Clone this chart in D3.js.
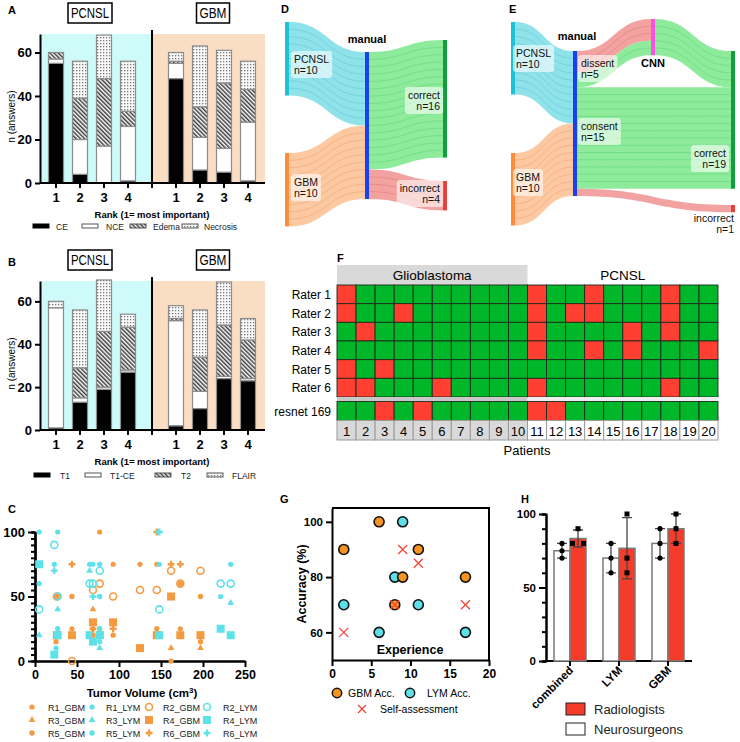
<!DOCTYPE html>
<html><head><meta charset="utf-8">
<script src="https://cdn.jsdelivr.net/npm/d3@7"></script>
<style>body{margin:0;background:#fff}svg{display:block}text{font-family:"Liberation Sans",Arial,sans-serif}</style>
</head><body><svg id="c" width="740" height="742"></svg>
<script>
// ================= DATA =================
const ranks = ["1","2","3","4"];
const yTicksAB = [0,20,40,60];
// Panel A
const aKeys = ["CE","NCE","Edema","Necrosis"];
const aPcnslCE = [55,4,0,1];
const aPcnslNCE = [2,16,17,25];
const aPcnslEdema = [3,19,31,7];
const aPcnslNecrosis = [0,17,20,23];
const aGbmCE = [48,6,5,1];
const aGbmNCE = [7,15,11,27];
const aGbmEdema = [1,14,30,15];
const aGbmNecrosis = [4,28,15,13];
// Panel B
const bKeys = ["T1","T1-CE","T2","FLAIR"];
const bPcnslT1 = [1,13,19,27];
const bPcnslT1CE = [56,2,1,1];
const bPcnslT2 = [0,14,26,20];
const bPcnslFLAIR = [3,27,24,6];
const bGbmT1 = [2,10,24,23];
const bGbmT1CE = [49,8,1,1];
const bGbmT2 = [1,16,24,18];
const bGbmFLAIR = [6,22,20,10];
// Panel C  [tumor volume, value]
const cR1Gbm = [[25,15],[44,25],[69,25],[77,100],[93,75],[125,75],[145,75],[162,0],[173,25],[197,15]];
const cR1Lym = [[5,100],[23,75],[27,100],[65,75],[69,75],[77,75],[148,75],[221,50],[233,75],[25,10]];
const cR2Gbm = [[26,50],[44,0],[69,55],[77,60],[93,50],[125,55],[145,55],[162,70],[173,60],[197,70]];
const cR2Lym = [[5,40],[23,90],[27,50],[65,60],[69,60],[77,70],[148,40],[221,60],[233,60]];
const cR3Gbm = [[69,40],[162,10],[197,10]];
const cR3Lym = [[5,20],[27,40],[65,70],[77,10],[233,45]];
const cR4Gbm = [[26,20],[44,20],[69,30],[77,20],[93,30],[125,10],[145,20],[162,50],[173,20],[197,20]];
const cR4Lym = [[5,75],[23,5],[27,20],[65,20],[69,15],[77,20],[148,20],[221,25],[233,20]];
const cR5Gbm = [[26,50],[44,50],[69,20],[77,25],[93,20],[145,25],[173,60],[197,50]];
const cR5Lym = [[5,60],[27,25],[77,25],[77,15],[77,50],[65,20]];
const cR6Gbm = [[44,75],[69,25],[93,25],[145,100],[162,75],[173,75]];
const cR6Lym = [[23,70],[69,50],[148,100]];
const cXTicks = [0,50,100,150,200,250];
const cYTicks = [0,50,100];
// Panel D
const dLeftNames = ["PCNSL","GBM"];
const dLeftN = [10,10];
const dRightNames = ["correct","incorrect"];
const dRightN = [16,4];
// Panel E
const eDissentIncorrect = 3, eDissentCorrect = 2;
const eConsentCorrect = 14, eConsentIncorrect = 1;
const eCorrectN = 19, eIncorrectN = 1;
// Panel F
const patients = d3.range(1,21);
const raters = ["Rater 1","Rater 2","Rater 3","Rater 4","Rater 5","Rater 6"];
const raterWrong = [[1,11,14,18],[1,4,11,13,14,18],[2,11,16,18],[11,14,16,20],[1,3],[1,2,6,11,18]];
const resnetWrong = [3,5,11,12];
// Panel G
const gExperience = [1.5,6,8,9,11,17];
const gGbmAcc = [90,100,70,80,90,80];
const gLymAcc = [70,60,80,100,70,60];
const gSelfExp = [1.5,8,9,11,17];
const gSelfAcc = [60,70,90,85,70];
// Panel H
const hGroups = ["combined","LYM","GBM"];
const hNeuroPts = [[80,75,70],[80,70,60],[90,80,70]];
const hRadioPts = [[90,80,80],[100,70,60],[100,90,80]];

// ================= DRAW =================
const svg = d3.select("#c");
const defs = svg.append("defs");
const hatch = defs.append("pattern").attr("id","hatch").attr("patternUnits","userSpaceOnUse")
  .attr("width",3).attr("height",3).attr("patternTransform","rotate(-45)");
hatch.append("rect").attr("width",3).attr("height",3).attr("fill","#fff");
hatch.append("rect").attr("x",0).attr("width",1.5).attr("height",3).attr("fill","#3c3c3c");
const dots = defs.append("pattern").attr("id","dots").attr("patternUnits","userSpaceOnUse").attr("width",3).attr("height",3);
dots.append("rect").attr("width",3).attr("height",3).attr("fill","#fafafa");
dots.append("rect").attr("x",1).attr("y",1).attr("width",1.3).attr("height",1.3).attr("fill","#777");
const stackFills = ["#000","#fff","url(#hatch)","url(#dots)"];
const BOLD = "bold";

function letter(t,x,y){ svg.append("text").attr("x",x).attr("y",y).attr("font-size",11).attr("font-weight",BOLD).text(t); }
function styleAxis(ax, fs){
  ax.attr("font-family","Liberation Sans,Arial,sans-serif").attr("font-size",fs).attr("font-weight",BOLD);
  ax.select(".domain").attr("stroke-width",2);
  ax.selectAll(".tick line").attr("stroke-width",2);
}

function panelAB(cfg){
  const g = svg.append("g");
  const yS = d3.scaleLinear().domain([0,cfg.dom]).range([cfg.y0,cfg.yTop]);
  const xP = d3.scalePoint().domain(ranks).range([56,128]);
  const xG = d3.scalePoint().domain(ranks).range([176,248]);
  g.append("rect").attr("x",41).attr("y",yS(cfg.dom)).attr("width",111).attr("height",yS(0)-yS(cfg.dom)).attr("fill","#cffafa");
  g.append("rect").attr("x",152).attr("y",yS(cfg.dom)).attr("width",113).attr("height",yS(0)-yS(cfg.dom)).attr("fill","#fadec4");
  [[cfg.pRows,xP],[cfg.gRows,xG]].forEach(([rows,xs])=>{
    const st = d3.stack().keys(cfg.keys)(rows);
    st.forEach((layer,k)=>{
      g.selectAll(null).data(layer.filter(d=>d[1]-d[0]>0)).join("rect")
        .attr("x",d=>xs(d.data.rank)-7.5).attr("width",15)
        .attr("y",d=>yS(d[1])).attr("height",d=>yS(d[0])-yS(d[1]))
        .attr("fill",stackFills[k]).attr("stroke","#8c8c8c").attr("stroke-width",1.2);
    });
  });
  g.append("line").attr("x1",152).attr("x2",152).attr("y1",yS(cfg.dom)-4).attr("y2",yS(0)+5).attr("stroke","#000").attr("stroke-width",2);
  const ax = g.append("g").attr("transform","translate(40,0)").call(d3.axisLeft(yS).tickValues(yTicksAB).tickSize(5).tickSizeOuter(0));
  styleAxis(ax,13);
  g.append("line").attr("x1",40).attr("x2",265).attr("y1",yS(0)).attr("y2",yS(0)).attr("stroke","#000").attr("stroke-width",2);
  [[xP],[xG]].forEach(([xs])=>{
    ranks.forEach(r=>{
      g.append("line").attr("x1",xs(r)).attr("x2",xs(r)).attr("y1",yS(0)).attr("y2",yS(0)+5).attr("stroke","#000").attr("stroke-width",2);
      g.append("text").attr("x",xs(r)).attr("y",yS(0)+19).attr("text-anchor","middle").attr("font-size",13).attr("font-weight",BOLD).text(r);
    });
  });
  g.append("text").attr("transform",`translate(15,${(yS(0)+yS(cfg.dom))/2+8}) rotate(-90)`).attr("text-anchor","middle").attr("font-size",10).text("n (answers)");
  g.append("text").attr("x",152).attr("y",yS(0)+35).attr("text-anchor","middle").attr("font-size",9.5).attr("font-weight",BOLD).text("Rank (1= most important)");
  [["PCNSL",90,44,38],["GBM",213,33,27]].forEach(([t,cx,w,tl])=>{
    g.append("rect").attr("x",cx-w/2).attr("y",cfg.titleY).attr("width",w).attr("height",20).attr("fill","#fff").attr("stroke","#000").attr("stroke-width",1.5);
    g.append("text").attr("x",cx-tl/2).attr("y",cfg.titleY+15).attr("font-size",14.5)
      .attr("textLength",tl).attr("lengthAdjust","spacingAndGlyphs").text(t);
  });
  cfg.keys.forEach((k,i)=>{
    g.append("rect").attr("x",cfg.legX[i]).attr("y",cfg.legY-3).attr("width",16).attr("height",4)
      .attr("fill",stackFills[i]).attr("stroke", i==0?"#000":"#555").attr("stroke-width",1);
    g.append("text").attr("x",cfg.legTX[i]).attr("y",cfg.legY+2.5).attr("font-size",8.5).attr("fill","#222").text(k);
  });
}
function rowsFrom(arrs, keys){ return ranks.map((r,i)=>{ const o={rank:r}; keys.forEach((k,j)=>o[k]=arrs[j][i]); return o; }); }

letter("A",8,14);
panelAB({dom:68.5,y0:183,yTop:34,titleY:3,keys:aKeys,
  pRows:rowsFrom([aPcnslCE,aPcnslNCE,aPcnslEdema,aPcnslNecrosis],aKeys),
  gRows:rowsFrom([aGbmCE,aGbmNCE,aGbmEdema,aGbmNecrosis],aKeys),
  legY:227,legX:[33,82,130,182],legTX:[56,106,153,204]});
letter("B",8,266);
panelAB({dom:69.5,y0:430,yTop:281,titleY:250,keys:bKeys,
  pRows:rowsFrom([bPcnslT1,bPcnslT1CE,bPcnslT2,bPcnslFLAIR],bKeys),
  gRows:rowsFrom([bGbmT1,bGbmT1CE,bGbmT2,bGbmFLAIR],bKeys),
  legY:476,legX:[34,85,155,207],legTX:[60,110,181,232]});

// ---------- Panel C ----------
letter("C",8,513);
const orange = "#f49a40", cyan = "#5de2ea";
const xC = d3.scaleLinear().domain([0,250]).range([35,245]);
const yC = d3.scaleLinear().domain([0,100]).range([661,532]);
const gC = svg.append("g");
const axCm = gC.append("g").attr("transform","translate(35,0)").call(d3.axisLeft(yC).tickValues(d3.range(0,101,5)).tickSize(4).tickFormat(""));
styleAxis(axCm,13);
const axC = gC.append("g").attr("transform","translate(35,0)").call(d3.axisLeft(yC).tickValues(cYTicks).tickSize(7).tickSizeOuter(0));
styleAxis(axC,13); axC.select(".domain").attr("stroke-width",2.5);
const axCx = gC.append("g").attr("transform","translate(0,661)").call(d3.axisBottom(xC).tickValues(cXTicks).tickSize(6).tickSizeOuter(0));
styleAxis(axCx,12.5); axCx.select(".domain").attr("stroke-width",2.5);
const tv = gC.append("text").attr("x",142).attr("y",697).attr("text-anchor","middle").attr("font-size",11.5).attr("font-weight",BOLD);
tv.append("tspan").text("Tumor Volume (cm");
tv.append("tspan").attr("font-size",8).attr("dy",-4).text("3");
tv.append("tspan").attr("dy",4).text(")");
function marker(g,type,color,x,y){
  if(type==="dot") g.append("circle").attr("cx",x).attr("cy",y).attr("r",2.6).attr("fill",color);
  else if(type==="hex") g.append("path").attr("d",d3.symbol(d3.symbolCircle,22)()).attr("transform",`translate(${x},${y})`).attr("fill",color);
  else if(type==="ring") g.append("circle").attr("cx",x).attr("cy",y).attr("r",3.5).attr("fill","none").attr("stroke",color).attr("stroke-width",1.6);
  else if(type==="tri") g.append("path").attr("d",d3.symbol(d3.symbolTriangle,20)()).attr("transform",`translate(${x},${y})`).attr("fill",color);
  else if(type==="sq") g.append("rect").attr("x",x-4).attr("y",y-4).attr("width",8).attr("height",8).attr("fill",color);
  else if(type==="plus") g.append("path").attr("d",d3.symbol(d3.symbolCross,26)()).attr("transform",`translate(${x},${y})`).attr("fill",color);
}
const cSeries = [
  ["R1_GBM",cR1Gbm,"dot",orange],["R1_LYM",cR1Lym,"dot",cyan],["R2_GBM",cR2Gbm,"ring",orange],["R2_LYM",cR2Lym,"ring",cyan],
  ["R3_GBM",cR3Gbm,"tri",orange],["R3_LYM",cR3Lym,"tri",cyan],["R4_GBM",cR4Gbm,"sq",orange],["R4_LYM",cR4Lym,"sq",cyan],
  ["R5_GBM",cR5Gbm,"hex",orange],["R5_LYM",cR5Lym,"hex",cyan],["R6_GBM",cR6Gbm,"plus",orange],["R6_LYM",cR6Lym,"plus",cyan]];
const drawOrder = [6,7,0,1,2,3,4,5,8,9,10,11];
drawOrder.forEach(i=>{ const [n,data,type,col]=cSeries[i]; data.forEach(d=>marker(gC,type,col,xC(d[0]),yC(d[1]))); });
const legColX = [32,92,149,207], legColTX = [48,106,163,223], legRowY = [707,720,733];
cSeries.forEach(([n,data,type,col],i)=>{
  const c=i%4, r=Math.floor(i/4);
  marker(gC,type,col,legColX[c],legRowY[r]);
  gC.append("text").attr("x",legColTX[c]).attr("y",legRowY[r]+3.5).attr("font-size",9).attr("fill","#222").text(n);
});

// ---------- Sankey helpers ----------
const SFONT = "Open Sans,Noto Sans,sans-serif";
const colCyanL="#8fe1ea", colCyanS="#6fd2de", colOrL="#fcc9a3", colOrS="#f6b07f", colGrL="#8eeb9c", colGrS="#70de82", colRdL="#f2a3a1", colRdS="#ea8886";
function band(g,x0,y0,x1,y1,units,u,fill,strand){
  const h=units*u, xm=(x0+x1)/2;
  const p=d3.path(); p.moveTo(x0,y0); p.bezierCurveTo(xm,y0,xm,y1,x1,y1); p.lineTo(x1,y1+h); p.bezierCurveTo(xm,y1+h,xm,y0+h,x0,y0+h); p.closePath();
  g.append("path").attr("d",p.toString()).attr("fill",fill);
  for(let i=1;i<units;i++){ const a=y0+i*u,b=y1+i*u; const q=d3.path(); q.moveTo(x0,a); q.bezierCurveTo(xm,a,xm,b,x1,b);
    g.append("path").attr("d",q.toString()).attr("fill","none").attr("stroke",strand).attr("stroke-width",0.9); }
}
function node(g,x,y,h,color){ g.append("rect").attr("x",x).attr("y",y).attr("width",4).attr("height",h).attr("fill",color); }
function label(g,lines,x,y,anchor,box){
  const t=g.append("text").attr("font-family",SFONT).attr("font-size",10.5).attr("text-anchor",anchor).attr("fill","#111");
  lines.forEach((l,i)=>t.append("tspan").attr("x",x).attr("y",y+i*11).text(l));
  if(box){ const bb=t.node().getBBox(); g.insert("rect","text:last-of-type").attr("x",bb.x-3).attr("y",bb.y-2).attr("width",bb.width+6).attr("height",bb.height+4).attr("rx",3).attr("fill","#fff").attr("fill-opacity",0.6); }
  return t;
}
function boldLabel(g,t,x,y){ g.append("text").attr("font-family",SFONT).attr("font-size",11).attr("font-weight",BOLD).attr("text-anchor","middle").attr("x",x).attr("y",y).text(t); }

// ---------- Panel D ----------
letter("D",281,13);
const gD = svg.append("g");
const uD = d3.scaleLinear().domain([0,20]).range([0,147]);
const u1 = uD(1);
const dLeftTop = [22,153], dManTop = 52, dRightTop = [40,181];
const dLeftCol = [[colCyanL,colCyanS,"#1cc3d6"],[colOrL,colOrS,"#ff8b3b"]];
let acc = dManTop;
dLeftN.forEach((n,i)=>{ band(gD,289,dLeftTop[i],365,acc,n,u1,dLeftCol[i][0],dLeftCol[i][1]); acc+=uD(n); });
const dRightCol = [[colGrL,colGrS,"#0f9f3b"],[colRdL,colRdS,"#e6403a"]];
acc = dManTop;
dRightN.forEach((n,i)=>{ band(gD,369,acc,443,dRightTop[i],n,u1,dRightCol[i][0],dRightCol[i][1]); acc+=uD(n); });
dLeftN.forEach((n,i)=>node(gD,285,dLeftTop[i],uD(n),dLeftCol[i][2]));
node(gD,365,dManTop,uD(d3.sum(dLeftN)),"#1841f2");
dRightN.forEach((n,i)=>node(gD,443,dRightTop[i],uD(n),dRightCol[i][2]));
boldLabel(gD,"manual",367,43);
label(gD,[dLeftNames[0],"n="+dLeftN[0]],294,63,"start",true);
label(gD,[dLeftNames[1],"n="+dLeftN[1]],294,186,"start",true);
label(gD,[dRightNames[0],"n="+dRightN[0]],440,99,"end",true);
label(gD,[dRightNames[1],"n="+dRightN[1]],440,192,"end",true);

// ---------- Panel E ----------
letter("E",509,13);
const gE = svg.append("g");
const uE = d3.scaleLinear().domain([0,20]).range([0,145]);
const v1 = uE(1);
const eLeftTop = [22,153], eManTop = 51, eCnnTop = 19, eCorTop = 51, eIncTop = 205;
acc = eManTop;
dLeftN.forEach((n,i)=>{ band(gE,515,eLeftTop[i],573,acc,n,v1,dLeftCol[i][0],dLeftCol[i][1]); acc+=uE(n); });
band(gE,577,eManTop,651,eCnnTop,eDissentIncorrect,v1,colRdL,colRdS);
band(gE,577,eManTop+uE(eDissentIncorrect),651,eCnnTop+uE(eDissentIncorrect),eDissentCorrect,v1,colGrL,colGrS);
band(gE,655,eCnnTop,731,eCorTop,eDissentIncorrect+eDissentCorrect,v1,colGrL,colGrS);
const consentTop = eManTop+uE(eDissentIncorrect+eDissentCorrect);
band(gE,577,consentTop,731,eCorTop+uE(eDissentIncorrect+eDissentCorrect),eConsentCorrect,v1,colGrL,colGrS);
band(gE,577,consentTop+uE(eConsentCorrect),731,eIncTop,eConsentIncorrect,v1,colRdL,colRdS);
dLeftN.forEach((n,i)=>node(gE,511,eLeftTop[i],uE(n),dLeftCol[i][2]));
node(gE,573,eManTop,uE(d3.sum(dLeftN)),"#1841f2");
node(gE,651,eCnnTop,uE(eDissentIncorrect+eDissentCorrect),"#ff4fe3");
node(gE,731,eCorTop,uE(eCorrectN),"#0f9f3b");
node(gE,731,eIncTop,uE(eIncorrectN),"#e6403a");
boldLabel(gE,"manual",577,40);
boldLabel(gE,"CNN",653,67);
label(gE,["PCNSL","n=10"],516,57,"start",true);
label(gE,["GBM","n=10"],516,181,"start",true);
label(gE,["dissent","n="+(eDissentIncorrect+eDissentCorrect)],581,67,"start",true);
label(gE,["consent","n="+(eConsentCorrect+eConsentIncorrect)],581,130,"start",true);
label(gE,["correct","n="+eCorrectN],726,157,"end",true);
label(gE,["incorrect","n="+eIncorrectN],734,222,"end",false);

// ---------- Panel F ----------
letter("F",337,262);
const gF = svg.append("g");
const fx = d3.scaleBand().domain(patients).range([337,718]);
const fy = d3.scaleBand().domain(raters).range([285,397]);
const green="#00b72a", red="#fe3f31";
gF.append("rect").attr("x",fx(1)).attr("y",265).attr("width",fx(10)+fx.bandwidth()-fx(1)).attr("height",20).attr("fill","#d9d9d9");
gF.append("text").attr("x",(fx(1)+fx(10)+fx.bandwidth())/2).attr("y",280).attr("text-anchor","middle").attr("font-size",13.5).text("Glioblastoma");
gF.append("text").attr("x",(fx(11)+fx(20)+fx.bandwidth())/2).attr("y",280).attr("text-anchor","middle").attr("font-size",13.5).text("PCNSL");
raters.forEach((r,ri)=>{
  gF.selectAll(null).data(patients).join("rect").attr("x",p=>fx(p)).attr("y",fy(r)).attr("width",fx.bandwidth()).attr("height",fy.bandwidth())
    .attr("fill",p=>raterWrong[ri].includes(p)?red:green).attr("stroke","#1c2a1c").attr("stroke-width",0.9);
  gF.append("text").attr("x",331).attr("y",fy(r)+fy.bandwidth()/2+4.5).attr("text-anchor","end").attr("font-size",12).text(r);
});
gF.append("rect").attr("x",fx(1)).attr("y",397).attr("width",fx(10)+fx.bandwidth()-fx(1)).attr("height",4).attr("fill","#c8c8c8");
gF.append("rect").attr("x",fx(11)).attr("y",397).attr("width",fx(20)+fx.bandwidth()-fx(11)).attr("height",4).attr("fill","#eeeeee");
const resY = 401.5, resH = 19;
gF.selectAll(null).data(patients).join("rect").attr("x",p=>fx(p)).attr("y",resY).attr("width",fx.bandwidth()).attr("height",resH)
  .attr("fill",p=>resnetWrong.includes(p)?red:green).attr("stroke","#1c2a1c").attr("stroke-width",0.9);
gF.append("text").attr("x",331).attr("y",resY+resH/2+4.5).attr("text-anchor","end").attr("font-size",12).text("resnet 169");
gF.selectAll(null).data(patients).join("rect").attr("x",p=>fx(p)).attr("y",resY+resH).attr("width",fx.bandwidth()).attr("height",19.5)
  .attr("fill",p=>p<=10?"#d9d9d9":"#fff").attr("stroke","#9a9a9a").attr("stroke-width",1);
gF.selectAll(null).data(patients).join("text").attr("x",p=>fx(p)+fx.bandwidth()/2).attr("y",resY+resH+15).attr("text-anchor","middle").attr("font-size",13).text(p=>p);
gF.append("text").attr("x",527).attr("y",455).attr("text-anchor","middle").attr("font-size",13).text("Patients");

// ---------- Panel G ----------
letter("G",280,503);
const gG = svg.append("g");
const xGs = d3.scaleLinear().domain([0,20]).range([332,489]);
const yGs = d3.scaleLinear().domain([50,105]).range([660,508]);
gG.append("path").attr("d",`M${xGs(0)},${yGs(105)}H${xGs(20)}V${yGs(50)}`).attr("fill","none").attr("stroke","#000").attr("stroke-width",2);
const axGy = gG.append("g").attr("transform",`translate(${xGs(0)},0)`).call(d3.axisLeft(yGs).tickValues([60,80,100]).tickSize(6).tickSizeOuter(0));
styleAxis(axGy,11.5);
const axGx = gG.append("g").attr("transform",`translate(0,${yGs(50)})`).call(d3.axisBottom(xGs).tickValues([0,5,10,15,20]).tickSize(6).tickSizeOuter(0));
styleAxis(axGx,12);
gG.append("text").attr("transform",`translate(306,${(yGs(50)+yGs(105))/2}) rotate(-90)`).attr("text-anchor","middle").attr("font-size",12.5).attr("font-weight",BOLD).text("Accuracy (%)");
gG.append("text").attr("x",410).attr("y",654).attr("text-anchor","middle").attr("font-size",12.5).attr("font-weight",BOLD).text("Experience");
const gOr="#f7941f", gCy="#5ee0e8", gRd="#f2453a";
gExperience.forEach((e,i)=>{
  gG.append("circle").attr("cx",xGs(e)).attr("cy",yGs(gLymAcc[i])).attr("r",5).attr("fill",gCy).attr("stroke","#111").attr("stroke-width",1.6);
  gG.append("circle").attr("cx",xGs(e)).attr("cy",yGs(gGbmAcc[i])).attr("r",5).attr("fill",gOr).attr("stroke","#111").attr("stroke-width",1.6);
});
const xMark = (g,x,y,s)=>g.append("path").attr("d",`M${x-s},${y-s}L${x+s},${y+s}M${x-s},${y+s}L${x+s},${y-s}`).attr("stroke",gRd).attr("stroke-width",1.3).attr("fill","none");
gSelfExp.forEach((e,i)=>xMark(gG,xGs(e),yGs(gSelfAcc[i]),4.5));
gG.append("circle").attr("cx",337).attr("cy",693).attr("r",4.7).attr("fill",gOr).attr("stroke","#111").attr("stroke-width",1.5);
gG.append("text").attr("x",348).attr("y",697).attr("font-size",10.5).text("GBM Acc.");
gG.append("circle").attr("cx",410).attr("cy",693).attr("r",4.7).attr("fill",gCy).attr("stroke","#111").attr("stroke-width",1.5);
gG.append("text").attr("x",427).attr("y",697).attr("font-size",10.5).text("LYM Acc.");
xMark(gG,362,709,4);
gG.append("text").attr("x",380).attr("y",713).attr("font-size",10.5).text("Self-assessment");

// ---------- Panel H ----------
letter("H",521,503);
const gH = svg.append("g");
const yH = d3.scaleLinear().domain([0,100]).range([661,514]);
const xH = d3.scalePoint().domain(hGroups).range([570,668]);
const bw = 16;
const axHm = gH.append("g").attr("transform","translate(546,0)").call(d3.axisLeft(yH).tickValues(d3.range(0,101,10)).tickSize(4).tickFormat(""));
styleAxis(axHm,11.5);
const axH = gH.append("g").attr("transform","translate(546,0)").call(d3.axisLeft(yH).tickValues([0,50,100]).tickSize(7).tickSizeOuter(0));
styleAxis(axH,11.5);
gH.append("line").attr("x1",546).attr("x2",692).attr("y1",yH(0)).attr("y2",yH(0)).attr("stroke","#000").attr("stroke-width",2);
const hRed="#f53b2a";
function hSeries(pts,off,fill,shape){
  hGroups.forEach((grp,i)=>{
    const vals=pts[i], m=d3.mean(vals), sd=d3.deviation(vals);
    const cx = xH(grp)+off;
    gH.append("rect").attr("x",cx-bw/2).attr("y",yH(m)).attr("width",bw).attr("height",yH(0)-yH(m)).attr("fill",fill).attr("stroke","#7a7a7a").attr("stroke-width",1.5);
    gH.append("path").attr("d",`M${cx},${yH(m-sd)}V${yH(m+sd)}M${cx-5},${yH(m-sd)}H${cx+5}M${cx-5},${yH(m+sd)}H${cx+5}`).attr("stroke","#444").attr("stroke-width",1.3).attr("fill","none");
    const seen={};
    vals.forEach(v=>{ seen[v]=(seen[v]||0)+1; });
    const used={};
    vals.forEach(v=>{
      const k=seen[v]; used[v]=(used[v]||0)+1;
      const dx = k>1 ? (used[v]-1-(k-1)/2)*11 : 0;
      if(shape==="sq") gH.append("rect").attr("x",cx+dx-2.5).attr("y",yH(v)-2.5).attr("width",5).attr("height",5).attr("fill","#000");
      else gH.append("circle").attr("cx",cx+dx).attr("cy",yH(v)).attr("r",2.6).attr("fill","#000");
    });
  });
}
hSeries(hNeuroPts,-8,"#fff","dot");
hSeries(hRadioPts,8,hRed,"sq");
hGroups.forEach(grp=>{
  gH.append("line").attr("x1",xH(grp)).attr("x2",xH(grp)).attr("y1",yH(0)).attr("y2",yH(0)+5).attr("stroke","#000").attr("stroke-width",2);
  gH.append("text").attr("transform",`translate(${xH(grp)+4},${yH(0)+10}) rotate(-45)`).attr("text-anchor","end").attr("font-size",11.5).attr("font-weight",BOLD).text(grp);
});
gH.append("rect").attr("x",566).attr("y",703).attr("width",19).attr("height",12).attr("fill",hRed).attr("stroke","#222").attr("stroke-width",1);
gH.append("text").attr("x",594).attr("y",714).attr("font-size",13).attr("fill","#222").text("Radiologists");
gH.append("rect").attr("x",566).attr("y",723).attr("width",19).attr("height",12).attr("fill","#fff").attr("stroke","#222").attr("stroke-width",1);
gH.append("text").attr("x",594).attr("y",734).attr("font-size",13).attr("fill","#222").text("Neurosurgeons");
</script></body></html>
